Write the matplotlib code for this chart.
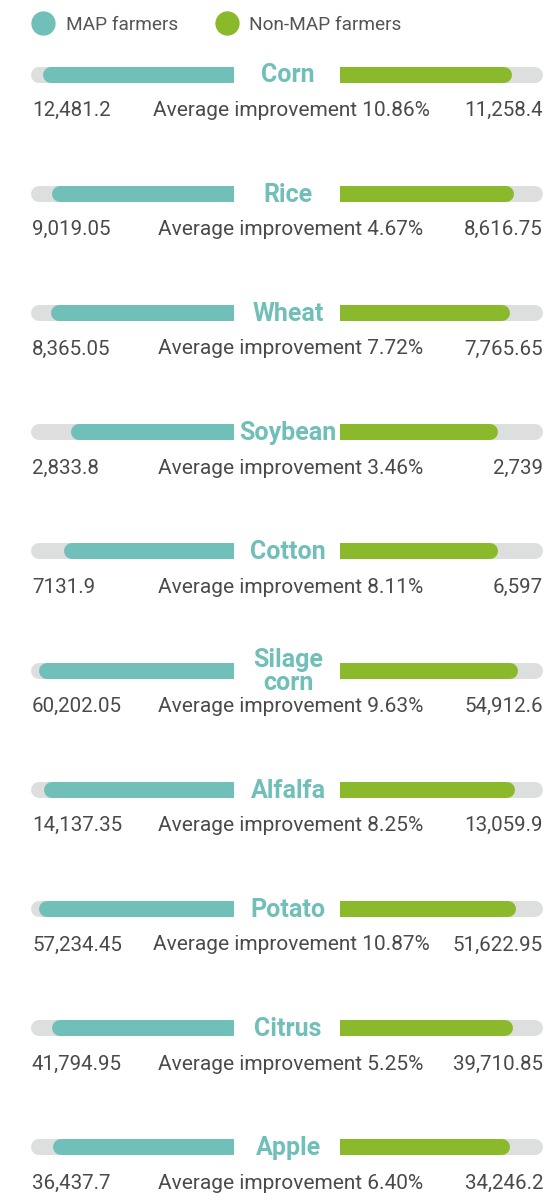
import matplotlib
matplotlib.use('agg')
import matplotlib.pyplot as plt
from matplotlib.lines import Line2D

crops = ['Corn', 'Rice', 'Wheat', 'Soybean', 'Cotton', 'Silage\ncorn',
         'Alfalfa', 'Potato', 'Citrus', 'Apple']
map_values = ['12,481.2', '9,019.05', '8,365.05', '2,833.8', '7131.9',
              '60,202.05', '14,137.35', '57,234.45', '41,794.95', '36,437.7']
non_map_values = ['11,258.4', '8,616.75', '7,765.65', '2,739', '6,597',
                  '54,912.6', '13,059.9', '51,622.95', '39,710.85', '34,246.2']
improvement = ['10.86%', '4.67%', '7.72%', '3.46%', '8.11%',
               '9.63%', '8.25%', '10.87%', '5.25%', '6.40%']
# full length of the grey track in each row
scale_max = [13250, 10050, 9280, 3520, 8500, 62700, 15130, 59580, 46600, 40880]

TEAL = '#70bfb8'
GREEN = '#8aba2b'
TRACK = '#dddede'
TEXT = '#4a4a4a'

W, H = 554, 1193
plt.rcParams['font.family'] = ['Roboto', 'DejaVu Sans']

fig = plt.figure(figsize=(W / 100, H / 100), dpi=100)


def fx(px):
    return px / W


def fy(py):
    return 1 - py / H


bar_h = 16
lw = bar_h * 72 / 100.0
left_x0, left_x1 = 31, 234
right_x0, right_x1 = 340, 543
track_len = left_x1 - left_x0


def draw_bar(ax, value, top, color):
    # rounded outer end, square inner end
    r = (bar_h / 2.0) / track_len * top
    ax.plot([value - r, value / 2.0], [0, 0], color=color, lw=lw,
            solid_capstyle='round', clip_on=False)
    ax.plot([value / 2.0, 0], [0, 0], color=color, lw=lw,
            solid_capstyle='butt', clip_on=False)


for i, crop in enumerate(crops):
    yc = 74.5 + i * 119.2
    top = scale_max[i]
    mv = float(map_values[i].replace(',', ''))
    nv = float(non_map_values[i].replace(',', ''))

    axl = fig.add_axes([fx(left_x0), fy(yc + bar_h / 2), fx(track_len), bar_h / H])
    axl.set_xlim(top, 0)
    axr = fig.add_axes([fx(right_x0), fy(yc + bar_h / 2), fx(right_x1 - right_x0), bar_h / H])
    axr.set_xlim(0, top)
    for ax in (axl, axr):
        ax.set_ylim(-1, 1)
        ax.axis('off')
        draw_bar(ax, top, top, TRACK)
    draw_bar(axl, mv, top, TEAL)
    draw_bar(axr, nv, top, GREEN)

    fig.text(fx(288), fy(yc + 1), crop, ha='center', va='center', color=TEAL,
             fontsize=18, fontweight='bold', linespacing=1.0)

    ty = yc + 36
    fig.text(fx(32), fy(ty), map_values[i], ha='left', va='center',
             color=TEXT, fontsize=14.8)
    fig.text(fx(291), fy(ty), 'Average improvement ' + improvement[i],
             ha='center', va='center', color=TEXT, fontsize=15)
    fig.text(fx(543), fy(ty), non_map_values[i], ha='right', va='center',
             color=TEXT, fontsize=14.8)

handles = [Line2D([], [], ls='none', marker='o', ms=16.5, color=TEAL),
           Line2D([], [], ls='none', marker='o', ms=16.5, color=GREEN)]
leg = fig.legend(handles, ['MAP farmers', 'Non-MAP farmers'], ncol=2,
                 loc='center left', bbox_to_anchor=(fx(22), fy(25)),
                 frameon=False, fontsize=13.7, handletextpad=0.6,
                 columnspacing=1.95, handlelength=1.2, borderpad=0)
for t in leg.get_texts():
    t.set_color('#555555')

fig.savefig('out.png', dpi=100, facecolor='white')
